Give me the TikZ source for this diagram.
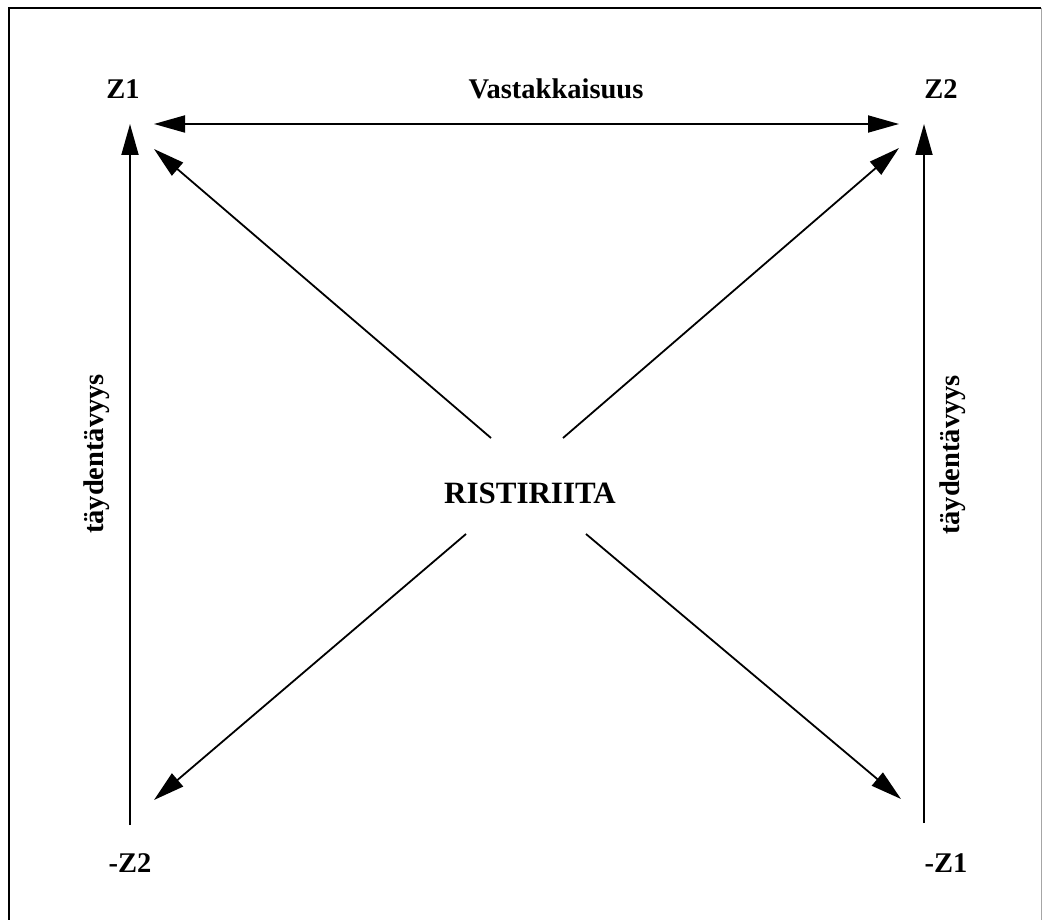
\documentclass[tikz,border=0pt]{standalone}
\usepackage{fontspec}
\setmainfont{Liberation Serif}
\usetikzlibrary{arrows.meta}
\tikzset{
  lbl/.style={font=\fontsize{28.5}{30}\selectfont\bfseries, inner sep=0pt, anchor=base},
  big/.style={font=\fontsize{31}{33}\selectfont\bfseries, inner sep=0pt, anchor=base},
  conn/.style={line width=1.8pt, -{Triangle[length=31pt,width=17pt]}},
  dconn/.style={line width=1.8pt, {Triangle[length=31pt,width=17pt]}-{Triangle[length=31pt,width=17pt]}},
  frame/.style={line width=2.2pt}
}
\begin{document}
\begin{tikzpicture}[x=1pt,y=-1pt]
\useasboundingbox (0,0) rectangle (1042,920);
% frame
\coordinate (fbl) at (9,920);
\coordinate (ftl) at (9,8);
\coordinate (ftr) at (1041,8);
\coordinate (fbr) at (1041,920);
\draw[frame] (fbl) -- (ftl) -- (ftr);
\draw[line width=0.8pt, black!35] (ftr) -- (fbr);
% labels
\node[lbl] (z1) at (123,99) {Z1};
\node[lbl] (z2) at (941,99) {Z2};
\node[lbl] (mz2) at (130,872) {-Z2};
\node[lbl] (mz1) at (946,872) {-Z1};
\node[lbl] (vast) at (556,99) {Vastakkaisuus};
\node[big] (rist) at (530,503) {RISTIRIITA};
\node[lbl, anchor=center, rotate=90] (tl) at (97,454) {täydentävyys};
\node[lbl, anchor=center, rotate=90] (tr) at (953,455) {täydentävyys};
% endpoints
\coordinate (hL) at (154,124);
\coordinate (hR) at (899,124);
\coordinate (vLt) at (130,124);
\coordinate (vLb) at (130,825);
\coordinate (vRt) at (924,124);
\coordinate (vRb) at (924,823);
\coordinate (cUL) at (491,438);
\coordinate (cUR) at (563,438);
\coordinate (cLL) at (466,534);
\coordinate (cLR) at (586,534);
\coordinate (dUL) at (154,149);
\coordinate (dUR) at (899,148);
\coordinate (dLL) at (154,800);
\coordinate (dLR) at (901,799);
% connectors
\draw[dconn] (hL) -- (hR);
\draw[conn] (vLb) -- (vLt);
\draw[conn] (vRb) -- (vRt);
\draw[conn] (cUL) -- (dUL);
\draw[conn] (cUR) -- (dUR);
\draw[conn] (cLL) -- (dLL);
\draw[conn] (cLR) -- (dLR);
\end{tikzpicture}
\end{document}
